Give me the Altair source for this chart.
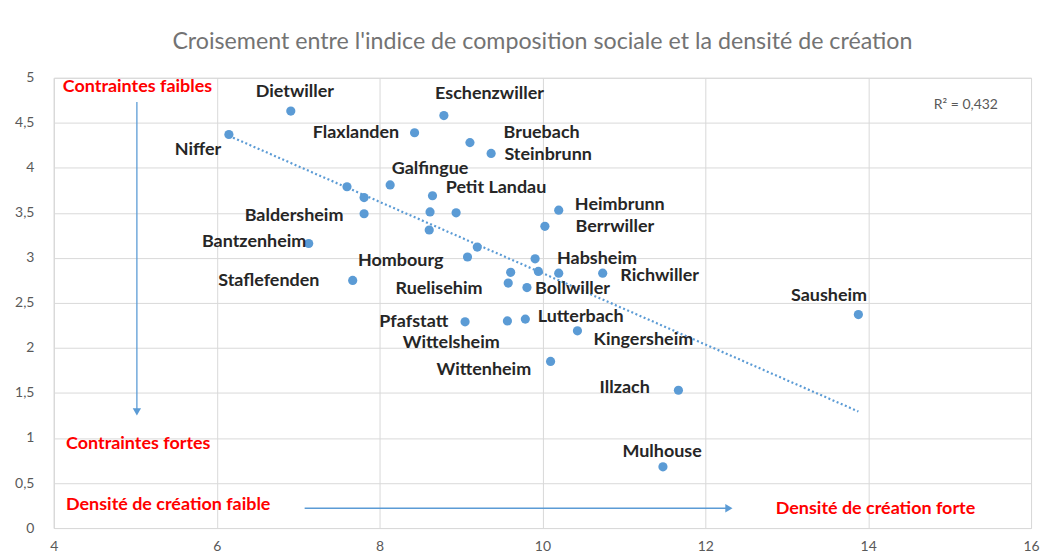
import altair as alt
import pandas as pd

# ---- data ----
point_x = [6.91, 6.15, 7.60, 7.13, 7.67, 8.79, 8.43, 9.11, 9.37, 8.13, 7.81, 8.65,
           7.81, 8.62, 8.94, 10.20, 10.03, 8.61, 9.20, 9.08, 9.91, 9.61, 9.95, 10.20,
           10.74, 9.58, 9.81, 9.05, 9.57, 9.79, 10.43, 10.10, 13.88, 11.67, 11.48]
point_y = [4.63, 4.37, 3.79, 3.16, 2.75, 4.58, 4.39, 4.28, 4.16, 3.81, 3.67, 3.69,
           3.49, 3.51, 3.50, 3.53, 3.35, 3.31, 3.12, 3.01, 2.99, 2.84, 2.85, 2.83,
           2.83, 2.72, 2.67, 2.29, 2.30, 2.32, 2.19, 1.85, 2.37, 1.53, 0.68]

label_names = ["Dietwiller", "Eschenzwiller", "Flaxlanden", "Niffer", "Bruebach",
               "Steinbrunn", "Galfingue", "Petit Landau", "Baldersheim", "Heimbrunn",
               "Berrwiller", "Bantzenheim", "Habsheim", "Hombourg", "Richwiller",
               "Staflefenden", "Ruelisehim", "Bollwiller", "Sausheim", "Pfafstatt",
               "Lutterbach", "Kingersheim", "Wittelsheim", "Wittenheim", "Illzach",
               "Mulhouse"]
label_x = [6.96, 9.35, 7.71, 5.77, 9.99, 10.07, 8.62, 9.43, 6.95, 10.95, 10.89, 6.46,
           10.67, 8.26, 11.44, 6.64, 8.73, 10.37, 13.52, 8.42, 10.47, 11.24, 8.88,
           9.28, 11.01, 11.47]
label_y = [4.84, 4.82, 4.39, 4.20, 4.39, 4.14, 3.99, 3.78, 3.47, 3.59, 3.34, 3.18,
           2.99, 2.96, 2.80, 2.74, 2.65, 2.65, 2.58, 2.29, 2.34, 2.09, 2.06, 1.75,
           1.55, 0.84]

note_left_texts = ["Contraintes faibles", "Contraintes fortes", "Densité de création faible"]
note_left_x = [4.11, 4.15, 4.15]
note_left_y = [4.90, 0.93, 0.26]
note_center_texts = ["Densité de création forte"]
note_center_x = [14.09]
note_center_y = [0.21]

r2_text = ["R² = 0,432"]
r2_x = [15.20]
r2_y = [4.70]

arrow_x1 = [5.02, 7.08]
arrow_y1 = [4.73, 0.22]
arrow_x2 = [5.02, 12.29]
arrow_y2 = [1.29, 0.22]
head_shape = ["triangle-down", "triangle-right"]

title_text = "Croisement entre l'indice de composition sociale et la densité de création"

# ---- tables ----
pts = pd.DataFrame({"x": point_x, "y": point_y})
labels = pd.DataFrame({"x": label_x, "y": label_y, "name": label_names})
notes_l = pd.DataFrame({"x": note_left_x, "y": note_left_y, "t": note_left_texts})
notes_c = pd.DataFrame({"x": note_center_x, "y": note_center_y, "t": note_center_texts})
r2 = pd.DataFrame({"x": r2_x, "y": r2_y, "t": r2_text})
arrows = pd.DataFrame({"x": arrow_x1, "y": arrow_y1, "x2": arrow_x2, "y2": arrow_y2,
                       "shape": head_shape})

FONT = "Lato"
BLUE = "#5b9bd5"
xs = alt.Scale(domain=[4, 16], nice=False, zero=False)
ys = alt.Scale(domain=[0, 5], nice=False, zero=True)

x_axis = alt.Axis(values=[4, 6, 8, 10, 12, 14, 16], title=None, ticks=False, format="d",
                  grid=True, gridColor="#d9d9d9", domainColor="#d9d9d9", labelFlush=False,
                  labelColor="#595959", labelFontSize=14, labelFont=FONT, labelPadding=12)
y_axis = alt.Axis(values=[0, 0.5, 1, 1.5, 2, 2.5, 3, 3.5, 4, 4.5, 5], title=None, ticks=False,
                  format="~g", grid=True, gridColor="#d9d9d9", domainColor="#d9d9d9",
                  labelFlush=False,
                  labelColor="#595959", labelFontSize=14, labelFont=FONT, labelPadding=20,
                  labelExpr="replace(datum.label, '.', ',')")

points = alt.Chart(pts).mark_circle(size=85, color=BLUE, opacity=1).encode(
    x=alt.X("x:Q", scale=xs, axis=x_axis),
    y=alt.Y("y:Q", scale=ys, axis=y_axis),
)

trend = alt.Chart(pts).transform_regression("x", "y").mark_line(
    color=BLUE, strokeWidth=2.2, strokeDash=[2, 2.5]
).encode(x=alt.X("x:Q", scale=xs), y=alt.Y("y:Q", scale=ys))

arrow_lines = alt.Chart(arrows).mark_rule(color=BLUE, strokeWidth=1.3).encode(
    x=alt.X("x:Q", scale=xs), y=alt.Y("y:Q", scale=ys), x2="x2:Q", y2="y2:Q"
)
arrow_heads = alt.Chart(arrows).mark_point(filled=True, size=70, color=BLUE, opacity=1).encode(
    x=alt.X("x2:Q", scale=xs), y=alt.Y("y2:Q", scale=ys),
    shape=alt.Shape("shape:N", scale=None, legend=None)
)

text_labels = alt.Chart(labels).mark_text(
    font=FONT, fontSize=18, fontWeight="bold", color="#262626", align="center", baseline="middle"
).encode(x=alt.X("x:Q", scale=xs), y=alt.Y("y:Q", scale=ys), text="name:N")

left_notes = alt.Chart(notes_l).mark_text(
    font=FONT, fontSize=18, fontWeight="bold", color="#ff0000", align="left", baseline="middle"
).encode(x=alt.X("x:Q", scale=xs), y=alt.Y("y:Q", scale=ys), text="t:N")

center_notes = alt.Chart(notes_c).mark_text(
    font=FONT, fontSize=18, fontWeight="bold", color="#ff0000", align="center", baseline="middle"
).encode(x=alt.X("x:Q", scale=xs), y=alt.Y("y:Q", scale=ys), text="t:N")

r2_label = alt.Chart(r2).mark_text(
    font=FONT, fontSize=14, color="#595959", align="center", baseline="middle"
).encode(x=alt.X("x:Q", scale=xs), y=alt.Y("y:Q", scale=ys), text="t:N")

chart = alt.layer(
    points, trend, arrow_lines, arrow_heads, text_labels, left_notes, center_notes, r2_label
).properties(
    width=981,
    height=452,
    title=alt.TitleParams(title_text, anchor="middle", fontSize=23.3, font=FONT,
                          fontWeight="normal", color="#737373", offset=17),
    autosize=alt.AutoSizeParams(type="none"),
    padding={"left": 46, "top": 69, "right": 10, "bottom": 25},
).configure_view(stroke="#d9d9d9")

chart.save("out.html", embed_options={"renderer": "svg", "actions": False})
